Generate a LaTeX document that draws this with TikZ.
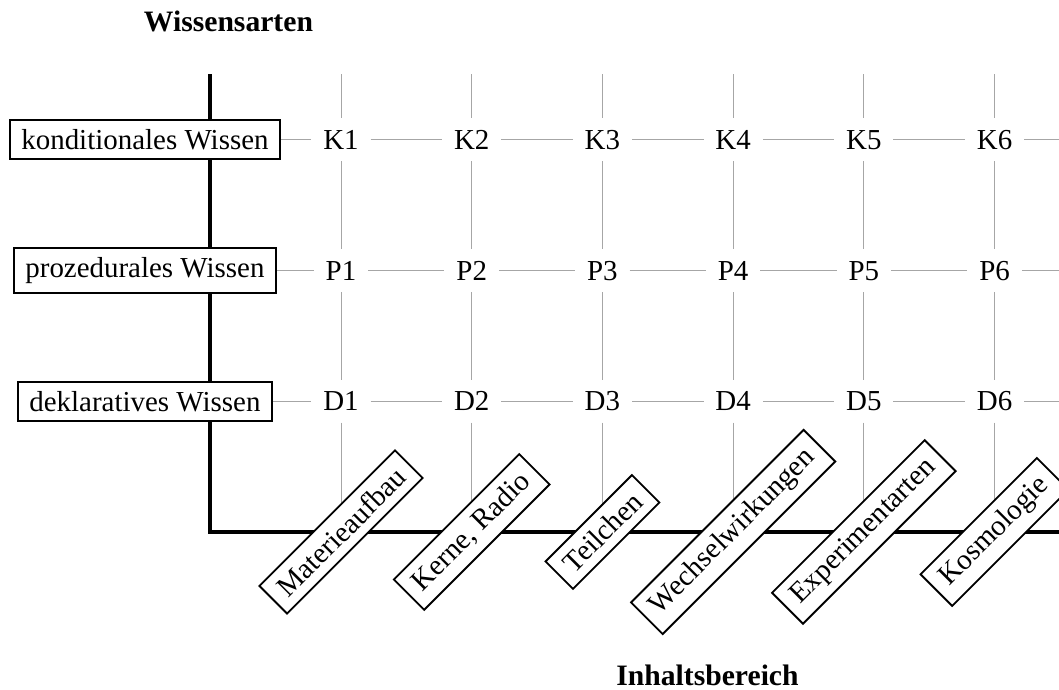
\documentclass[tikz,border=0pt]{standalone}
\usepackage{fontspec}
\setmainfont{Liberation Serif}
\usetikzlibrary{backgrounds}
\begin{document}
\begin{tikzpicture}[x=2cm,y=2cm,
  font=\fontsize{12.6}{14}\selectfont,
  lbl/.style={draw, line width=0.8pt, fill=white, inner xsep=5pt, inner ysep=4pt},
  cell/.style={inner sep=5pt, text height=8.3pt, text depth=0pt},
  gridline/.style={draw=black!35, line width=0.45pt},
  axisline/.style={line width=1.7pt},
  titletext/.style={font=\fontsize{12.9}{14}\selectfont\bfseries, anchor=base}]
\useasboundingbox (-1.609,-1.209) rectangle (6.493,4.070);

% left labels
\node[lbl] (kw) at (-0.5,3) {konditionales Wissen};
\node[lbl] (pw) at (-0.5,2) {prozedurales Wissen};
\node[lbl] (dw) at (-0.5,1) {deklaratives Wissen};

% grid cells
\foreach \i in {1,...,6} {
  \node[cell] (K\i) at (\i,3) {K\i};
  \node[cell] (P\i) at (\i,2) {P\i};
  \node[cell] (D\i) at (\i,1) {D\i};
  \coordinate (t\i) at (\i,3.5);
}

% content area labels
\node[lbl, rotate=45] (c1) at (1,0) {Materieaufbau};
\node[lbl, rotate=45] (c2) at (2,0) {Kerne, Radio};
\node[lbl, rotate=45] (c3) at (3,0) {Teilchen};
\node[lbl, rotate=45] (c4) at (4,0) {Wechselwirkungen};
\node[lbl, rotate=45] (c5) at (5,0) {Experimentarten};
\node[lbl, rotate=45] (c6) at (6,0) {Kosmologie};

% titles
\node[titletext] (wa) at (0.139,3.826) {Wissensarten};
\node[titletext] (ib) at (3.804,-1.178) {Inhaltsbereich};

% coordinates
\coordinate (top) at (0,3.5);
\coordinate (o) at (0,0);
\coordinate (aend) at (6.55,0);
\coordinate (eK) at (6.55,3);
\coordinate (eP) at (6.55,2);
\coordinate (eD) at (6.55,1);

\begin{scope}[on background layer]
  \draw[axisline] (top) -- (o) -- (aend);
  \draw[gridline] (kw) -- (K1) -- (K2) -- (K3) -- (K4) -- (K5) -- (K6) -- (eK);
  \draw[gridline] (pw) -- (P1) -- (P2) -- (P3) -- (P4) -- (P5) -- (P6) -- (eP);
  \draw[gridline] (dw) -- (D1) -- (D2) -- (D3) -- (D4) -- (D5) -- (D6) -- (eD);
  \foreach \i in {1,...,6} {
    \draw[gridline] (t\i) -- (K\i) -- (P\i) -- (D\i) -- (c\i.center);
  }
\end{scope}
\end{tikzpicture}
\end{document}
